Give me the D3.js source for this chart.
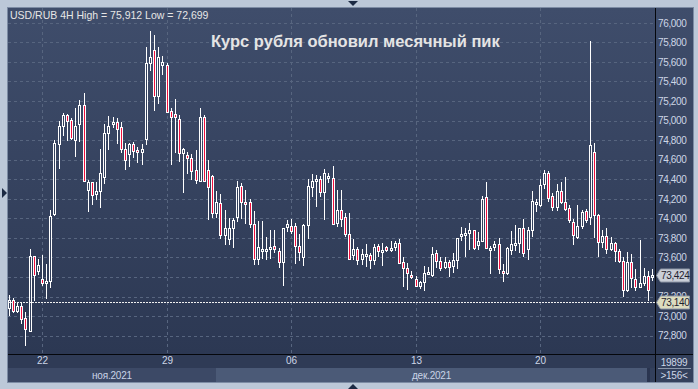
<!DOCTYPE html>
<html>
<head>
<meta charset="utf-8">
<script src="https://cdn.jsdelivr.net/npm/d3@7"></script>
<style>
  body { margin: 0; background: #bcc8d8; }
  svg { display: block; font-family: "Liberation Sans", Arial, sans-serif; }
</style>
</head>
<body>
<svg id="chart" width="698" height="389"></svg>
<script>
// USD/RUB 4H candles (156 bars)
const opens = [
  73084, 73162, 73056, 73101, 72978, 72852, 73615, 73465, 73377, 73356,
  73355, 74045, 74758, 74945, 75057, 75006, 74805, 74965, 75156, 74287,
  74369, 74246, 74277, 74420, 74870, 74962, 74989, 74931, 74706, 74655,
  74758, 74696, 74676, 74815, 75586, 75722, 75248, 75568, 75565, 75101,
  75064, 75013, 74666, 74645, 74614, 74492, 74379, 75034, 74492, 74430,
  74052, 74154, 73827, 73786, 73899, 74011, 74331, 74171, 74165, 73940,
  73582, 73674, 73674, 73684, 73715, 73663, 73551, 73909, 73922, 73922,
  73715, 73602, 73929, 74318, 74379, 74400, 74267, 74410, 74410, 73950,
  74086, 74011, 73837, 73623, 73687, 73582, 73623, 73623, 73571, 73715,
  73666, 73704, 73677, 73704, 73745, 73551, 73490, 73421, 73377, 73312,
  73346, 73431, 73421, 73643, 73564, 73506, 73551, 73516, 73571, 73827,
  73837, 73848, 73878, 73731, 73772, 74216, 73684, 73704, 73735, 73459,
  73438, 73674, 73735, 73745, 73899, 73684, 73878, 74144, 74134, 74352,
  74461, 74226, 74113, 74277, 74165, 74103, 73966, 73807, 73919, 74072,
  74017, 74676, 74035, 73755, 73820, 73690, 73745, 73666, 73561, 73271,
  73551, 73383, 73301, 73336, 73414, 73398
];
const highs = [
  73217, 73183, 73142, 73142, 73040, 73684, 73620, 73585, 73626, 73534,
  74086, 74802, 74996, 75074, 75070, 75030, 75126, 75207, 75282, 74389,
  74375, 74369, 74709, 74965, 75047, 75034, 75023, 74986, 74771, 74774,
  74784, 74730, 74761, 75749, 75912, 75875, 75749, 75657, 75589, 75126,
  75221, 75057, 74717, 74682, 74655, 74699, 75126, 75057, 74594, 74444,
  74283, 74246, 74083, 74001, 74001, 74379, 74365, 74290, 74201, 74076,
  73973, 73973, 73813, 73881, 73881, 73700, 73905, 73980, 73991, 73950,
  73837, 73940, 74403, 74454, 74447, 74430, 74502, 74461, 74536, 74290,
  74290, 74058, 74052, 73789, 73710, 73690, 73735, 73643, 73735, 73735,
  73751, 73721, 73769, 73772, 73786, 73602, 73547, 73459, 73411, 73363,
  73513, 73506, 73704, 73677, 73602, 73602, 73575, 73643, 73800, 73915,
  73899, 73950, 73882, 73864, 74229, 74372, 73718, 73772, 73803, 73531,
  73710, 73874, 73932, 73905, 73997, 73915, 74283, 74195, 74406, 74495,
  74488, 74257, 74352, 74372, 74420, 74134, 73997, 74134, 74086, 74093,
  75811, 74768, 74040, 73881, 73899, 73807, 73762, 73690, 73602, 73656,
  73639, 73486, 73779, 73490, 73462, 73482
];
const lows = [
  73002, 73036, 73036, 72920, 72699, 72841, 73155, 73421, 73309, 73179,
  73285, 74027, 74502, 74842, 74791, 74802, 74625, 74784, 74375, 74068,
  74134, 74188, 74109, 74348, 74699, 74921, 74761, 74666, 74492, 74525,
  74620, 74563, 74546, 74753, 75510, 75101, 75170, 75466, 75080, 74543,
  74666, 74574, 74257, 74451, 74393, 74355, 74375, 74375, 73984, 74001,
  74007, 73792, 73725, 73728, 73700, 73966, 73994, 73940, 73905, 73526,
  73526, 73588, 73578, 73588, 73649, 73490, 73312, 73864, 73840, 73537,
  73567, 73513, 73786, 74216, 74120, 74222, 73984, 74359, 73936, 73909,
  73909, 73807, 73578, 73578, 73523, 73523, 73506, 73482, 73520, 73602,
  73513, 73659, 73659, 73666, 73538, 73301, 73268, 73377, 73308, 73281,
  73261, 73421, 73404, 73496, 73465, 73482, 73404, 73445, 73479, 73772,
  73602, 73674, 73674, 73674, 73762, 73690, 73434, 73670, 73428, 73353,
  73421, 73629, 73663, 73643, 73608, 73571, 73807, 74068, 74113, 74297,
  74171, 74079, 74079, 74150, 74079, 73956, 73725, 73792, 73888, 73956,
  73929, 73796, 73602, 73694, 73639, 73670, 73557, 73541, 73193, 73250,
  73285, 73261, 73285, 73309, 73150, 73357
];
const closes = [
  73166, 73056, 73101, 72974, 72866, 73615, 73418, 73523, 73342, 73362,
  74024, 74774, 74945, 75057, 74993, 74819, 74945, 75156, 74379, 74369,
  74236, 74277, 74461, 74873, 74942, 74989, 74911, 74706, 74594, 74761,
  74692, 74679, 74706, 75586, 75647, 75248, 75650, 75599, 75085, 75034,
  75034, 74666, 74706, 74614, 74481, 74389, 75034, 74379, 74318, 74052,
  74165, 73827, 73899, 73899, 73984, 74318, 74171, 74160, 73940, 73582,
  73704, 73687, 73687, 73704, 73690, 73551, 73902, 73946, 73868, 73715,
  73659, 73929, 74328, 74379, 74400, 74267, 74461, 74430, 73940, 74086,
  73991, 73837, 73582, 73687, 73571, 73633, 73633, 73571, 73707, 73666,
  73677, 73674, 73697, 73745, 73541, 73490, 73438, 73404, 73312, 73346,
  73445, 73452, 73633, 73564, 73490, 73551, 73500, 73571, 73796, 73837,
  73848, 73878, 73700, 73772, 74195, 73694, 73697, 73735, 73479, 73438,
  73697, 73735, 73748, 73899, 73643, 73878, 74178, 74165, 74338, 74461,
  74205, 74113, 74277, 74165, 74093, 73984, 73827, 73919, 74065, 73987,
  74750, 74035, 73755, 73820, 73690, 73745, 73663, 73561, 73271, 73551,
  73393, 73301, 73336, 73414, 73271, 73424
];

// 73,400 sits under the last-price flag in the picture, so it is left out
const yTicks = [72800, 73000, 73200, 73600, 73800, 74000, 74200, 74400,
  74600, 74800, 75000, 75200, 75400, 75600, 75800, 76000];
const gridTicks = [72800, 73000, 73200, 73400, 73600, 73800, 74000, 74200, 74400,
  74600, 74800, 75000, 75200, 75400, 75600, 75800, 76000];
const dayIndex = [8, 38, 68, 98, 128];
const dayLabels = ['22', '29', '06', '13', '20'];
const monthStart = [0, 50];
const monthEnd = [50, 156];
const monthLabels = ['ноя.2021', 'дек.2021'];
const lastPrice = 73424;
const markPrice = 73140;

const svg = d3.select('#chart');
const x = d3.scaleLinear().domain([0, 155]).range([9.3, 652.6]);
const y = d3.scaleLinear().domain([72800, 76000]).range([335.7, 22.8]);
const px = (i) => Math.floor(x(i));
const py = (v) => Math.round(y(v));
const labelFont = '"Liberation Sans", Arial, sans-serif';

const defs = svg.append('defs');
const grad = defs.append('linearGradient')
  .attr('id', 'bg').attr('gradientUnits', 'userSpaceOnUse')
  .attr('x1', 0).attr('y1', 8).attr('x2', 0).attr('y2', 354);
grad.append('stop').attr('offset', 0).attr('stop-color', '#3f4d6b');
grad.append('stop').attr('offset', 1).attr('stop-color', '#2c3853');
defs.append('clipPath').attr('id', 'plotclip')
  .append('rect').attr('x', 8).attr('y', 8).attr('width', 647).attr('height', 346);

// panels
svg.append('rect').attr('width', 698).attr('height', 389).attr('fill', '#bcc8d8');
svg.append('rect').attr('x', 7.5).attr('y', 7.5).attr('width', 686).attr('height', 375)
  .attr('fill', '#33405c').attr('stroke', '#7d8ca4');
svg.append('rect').attr('x', 8).attr('y', 8).attr('width', 685).attr('height', 346).attr('fill', 'url(#bg)');
svg.append('rect').attr('x', 8).attr('y', 355).attr('width', 647).attr('height', 13).attr('fill', '#2f3b56');

// month cells under the dates
monthLabels.forEach((m, k) => {
  const x0 = k === 0 ? 8 : px(monthStart[k]);
  const x1 = k === monthLabels.length - 1 ? 647 : px(monthEnd[k]);
  svg.append('rect').attr('x', x0).attr('y', 368).attr('width', x1 - x0).attr('height', 14)
    .attr('fill', k % 2 ? '#4b5a77' : '#3c4966');
  svg.append('text').attr('x', (x0 + x1) / 2).attr('y', 378.5)
    .attr('text-anchor', 'middle').attr('font-size', 10).attr('letter-spacing', -0.2)
    .attr('fill', '#c9d3e6').text(m);
});
svg.append('rect').attr('x', 647).attr('y', 368).attr('width', 3).attr('height', 14).attr('fill', '#2a3550');

// grid
const g = svg.append('g').attr('clip-path', 'url(#plotclip)');
g.selectAll('.hgrid').data(gridTicks).enter().append('line')
  .attr('x1', 8).attr('x2', 655)
  .attr('y1', (d) => py(d) + 0.5).attr('y2', (d) => py(d) + 0.5)
  .attr('stroke', '#57657f').attr('stroke-dasharray', '3,3');
g.selectAll('.vgrid').data(dayIndex).enter().append('line')
  .attr('x1', (d) => px(d) + 0.5).attr('x2', (d) => px(d) + 0.5)
  .attr('y1', 8).attr('y2', 354)
  .attr('stroke', '#57657f').attr('stroke-dasharray', '3,3');

// title
svg.append('text').attr('x', 10).attr('y', 18.5).attr('font-size', 10.5).attr('fill', '#e6e6e6')
  .text('USD/RUB 4H High = 75,912 Low = 72,699');
svg.append('text').attr('x', 211).attr('y', 47).attr('font-size', 16.5).attr('font-weight', 'bold')
  .attr('fill', '#e4e4e4').text('Курс рубля обновил месячный пик');

// candles
const candles = d3.range(opens.length).map((i) => ({
  i, o: opens[i], h: highs[i], l: lows[i], c: closes[i]
}));
const cg = g.selectAll('.candle').data(candles).enter().append('g').attr('class', 'candle');
cg.each(function (d) {
  const sel = d3.select(this);
  const cx = px(d.i);
  let top = py(Math.max(d.o, d.c));
  let bot = py(Math.min(d.o, d.c));
  if (bot - top < 2) bot = top + 2;
  sel.append('line').attr('x1', cx + 0.5).attr('x2', cx + 0.5)
    .attr('y1', py(d.h)).attr('y2', top).attr('stroke', '#ffffff');
  sel.append('line').attr('x1', cx + 0.5).attr('x2', cx + 0.5)
    .attr('y1', bot).attr('y2', py(d.l)).attr('stroke', '#ffffff');
  sel.append('rect').attr('x', cx - 0.5).attr('y', top + 0.5)
    .attr('width', 2).attr('height', bot - top)
    .attr('fill', d.c < d.o ? '#f0103e' : '#34415d')
    .attr('stroke', '#ffffff');
});

// horizontal marker line
g.append('line').attr('x1', 8).attr('x2', 655)
  .attr('y1', py(markPrice) + 0.5).attr('y2', py(markPrice) + 0.5)
  .attr('stroke', '#f0f0f0').attr('stroke-dasharray', '2,1');

// axes
const yAxis = d3.axisRight(y).tickValues(yTicks).tickFormat(d3.format(',')).tickSize(0).tickPadding(3);
const ya = svg.append('g').attr('transform', 'translate(655,0)').call(yAxis);
ya.select('.domain').remove();
ya.selectAll('text').attr('font-size', 10).attr('letter-spacing', -0.35).attr('fill', '#cdd6e6')
  .attr('font-family', labelFont);

const xAxis = d3.axisBottom(x).tickValues(dayIndex)
  .tickFormat((d, k) => dayLabels[k]).tickSize(0).tickPadding(2);
const xa = svg.append('g').attr('transform', 'translate(0.5,355)').call(xAxis);
xa.select('.domain').remove();
xa.selectAll('.tick').attr('transform', (d) => `translate(${px(d)},0)`);
xa.selectAll('text').attr('font-size', 10).attr('fill', '#cdd6e6')
  .attr('font-family', labelFont);

svg.append('line').attr('x1', 655.5).attr('x2', 655.5).attr('y1', 8).attr('y2', 382)
  .attr('stroke', '#05070c');
svg.append('line').attr('x1', 8).attr('x2', 693).attr('y1', 354.5).attr('y2', 354.5)
  .attr('stroke', '#05070c');

// price flags
function flag(v, fill) {
  const yc = py(v) + 0.5;
  svg.append('path')
    .attr('d', `M656.5,${yc} L660.5,${yc - 6.5} H689.5 V${yc + 6.5} H660.5 Z`)
    .attr('fill', fill).attr('stroke', '#8d96a6');
  svg.append('text').attr('x', 661).attr('y', yc + 3.5).attr('font-size', 10)
    .attr('letter-spacing', -0.35).attr('fill', '#1e2230').text(d3.format(',')(v));
}
flag(lastPrice, '#c9ced8');
flag(markPrice, '#dcdcbf');

// bottom-right info
svg.append('text').attr('x', 674).attr('y', 365.5).attr('text-anchor', 'middle')
  .attr('font-size', 10).attr('letter-spacing', -0.3).attr('fill', '#cdd6e6').text('19899');
svg.append('line').attr('x1', 658).attr('x2', 691).attr('y1', 368.5).attr('y2', 368.5)
  .attr('stroke', '#8a96aa');
svg.append('text').attr('x', 674).attr('y', 378.5).attr('text-anchor', 'middle')
  .attr('font-size', 10).attr('letter-spacing', -0.3).attr('fill', '#cdd6e6').text('>156<');

// scroll triangles
svg.append('path').attr('d', 'M348,1 L358,1 L353,6 Z').attr('fill', '#1c2a44');
svg.append('path').attr('d', 'M348,389 L358,389 L353,384 Z').attr('fill', '#1c2a44');
svg.append('path').attr('d', 'M2,188 L2,198 L7,193 Z').attr('fill', '#1c2a44');
</script>
</body>
</html>
